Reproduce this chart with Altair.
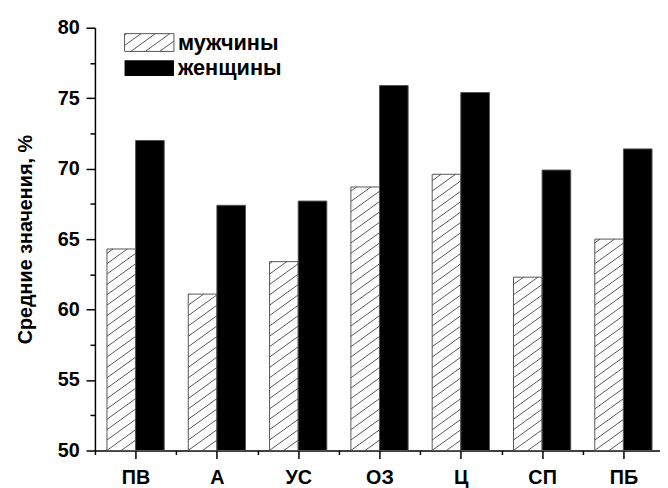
import altair as alt
import pandas as pd

# ---- data ----
categories = ["ПВ", "А", "УС", "ОЗ", "Ц", "СП", "ПБ"]
men = [64.3, 61.1, 63.4, 68.7, 69.6, 62.3, 65.0]
women = [72.0, 67.4, 67.7, 75.9, 75.4, 69.9, 71.4]
series_names = ["мужчины", "женщины"]
y_major_ticks = [50, 55, 60, 65, 70, 75, 80]
y_title = "Средние значения, %"

# ---- layout / style constants ----
W, H = 572, 428
X_MIN, X_MAX = -0.5, 6.45
Y_MIN, Y_MAX = 50, 80
PX = W / (X_MAX - X_MIN)
PY = H / (Y_MAX - Y_MIN)
BW = 0.352          # width of one bar, in category units
SLOPE = 0.72        # hatch slope (pixels up per pixel right)
SPACING = 10.5      # vertical spacing of hatch lines, px
FONT = "Liberation Sans"

rows = []
for i, c in enumerate(categories):
    rows.append({"cat": c, "i": i, "sex": series_names[0], "value": men[i]})
    rows.append({"cat": c, "i": i, "sex": series_names[1], "value": women[i]})
df = pd.DataFrame(rows)

x_scale = alt.Scale(domain=[X_MIN, X_MAX], nice=False, zero=False)
y_scale = alt.Scale(domain=[Y_MIN, Y_MAX], nice=False, zero=False)

label_arr = "[" + ",".join(f"'{c}'" for c in categories) + "]"
x_values = [k / 2 for k in range(-1, 2 * len(categories))]
x_axis = alt.Axis(
    values=x_values,
    labelExpr=f"datum.value % 1 == 0 ? {label_arr}[datum.value] : ''",
    tickSize={"condition": {"test": "datum.value % 1 != 0", "value": 4}, "value": 8},
    title=None, grid=False, labelFontSize=20, labelFont=FONT, labelFontWeight="bold",
    labelPadding=9, labelFlush=False, labelOverlap=False,
)
y_values = []
for a, b in zip(y_major_ticks[:-1], y_major_ticks[1:]):
    y_values += [a, (a + b) / 2]
y_values.append(y_major_ticks[-1])
y_axis = alt.Axis(
    values=y_values,
    labelExpr="datum.value % 5 == 0 ? datum.label : ''",
    tickSize={"condition": {"test": "datum.value % 5 != 0", "value": 5}, "value": 9},
    title=y_title, titleFontSize=20, titleFont=FONT, titleFontWeight="bold",
    titlePadding=22, labelPadding=7, grid=False, labelFontSize=20, labelFont=FONT,
    labelFontWeight="bold", labelFlush=False, labelOverlap=False,
)

bars = alt.Chart(df).transform_calculate(
    x0=f"datum.sex == '{series_names[0]}' ? datum.i - {BW} : datum.i",
    x1=f"datum.sex == '{series_names[0]}' ? datum.i : datum.i + {BW}",
).mark_bar(stroke="#555", strokeWidth=1).encode(
    x=alt.X("x0:Q", scale=x_scale, axis=x_axis),
    x2="x1:Q",
    y=alt.Y("value:Q", scale=y_scale, axis=y_axis),
    y2=alt.datum(Y_MIN),
    fill=alt.Fill("sex:N", scale=alt.Scale(domain=series_names, range=["white", "black"]), legend=None),
)

hatch = alt.Chart(df).transform_filter(
    f"datum.sex == '{series_names[0]}'"
).transform_calculate(
    wb=f"{BW * PX}",
    hb=f"(datum.value - {Y_MIN}) * {PY}",
    k="sequence(0, 200)",
).transform_flatten(["k"]).transform_calculate(
    b=f"-{SLOPE} * datum.wb + datum.k * {SPACING}"
).transform_filter("datum.b < datum.hb").transform_calculate(
    xs=f"max(0, -datum.b / {SLOPE})",
    xe=f"min(datum.wb, (datum.hb - datum.b) / {SLOPE})",
).transform_filter("datum.xs < datum.xe").transform_calculate(
    hx0=f"datum.i - {BW} + datum.xs / {PX}",
    hx1=f"datum.i - {BW} + datum.xe / {PX}",
    hy0=f"{Y_MIN} + ({SLOPE} * datum.xs + datum.b) / {PY}",
    hy1=f"{Y_MIN} + ({SLOPE} * datum.xe + datum.b) / {PY}",
).mark_rule(color="#444", strokeWidth=0.9).encode(
    x=alt.X("hx0:Q", scale=x_scale, axis=x_axis),
    x2="hx1:Q",
    y=alt.Y("hy0:Q", scale=y_scale, axis=y_axis),
    y2="hy1:Q",
)

# legend swatch path (unit box, scaled by symbol size)
SW_W, SW_H = 50, 18
r = SW_W / 2
hh = (SW_H / 2) / r
sp = SPACING / r
parts = [f"M-1,{-hh}H1V{hh}H-1Z"]
bb = -SLOPE * 1 - hh
while bb < hh + SLOPE:
    xs = max(-1, (-hh - bb) / SLOPE)
    xe = min(1, (hh - bb) / SLOPE)
    if xs < xe:
        parts.append(f"M{xs:.3f},{-(SLOPE * xs + bb):.3f}L{xe:.3f},{-(SLOPE * xe + bb):.3f}")
    bb += sp
swatch_path = "".join(parts)

leg_men = alt.Chart(pd.DataFrame({"label": [series_names[0]]})).mark_point(
    shape=swatch_path, filled=False, fill="white", stroke="#555", strokeWidth=1,
    size=SW_W * SW_W, opacity=1,
).encode(x=alt.value(55), y=alt.value(15))
leg_women = alt.Chart(pd.DataFrame({"label": [series_names[1]]})).mark_rect(
    color="black"
).encode(x=alt.value(30), x2=alt.value(80), y=alt.value(33), y2=alt.value(49))
txt_men = alt.Chart(pd.DataFrame({"label": [series_names[0]]})).mark_text(
    align="left", baseline="alphabetic", fontSize=22, fontWeight="bold", font=FONT, color="black"
).encode(x=alt.value(84), y=alt.value(23), text="label:N")
txt_women = alt.Chart(pd.DataFrame({"label": [series_names[1]]})).mark_text(
    align="left", baseline="alphabetic", fontSize=22, fontWeight="bold", font=FONT, color="black"
).encode(x=alt.value(84), y=alt.value(48), text="label:N")

chart = alt.layer(bars, hatch, leg_men, leg_women, txt_men, txt_women).properties(
    width=W, height=H,
    padding={"left": 7, "top": 7, "right": 0, "bottom": 0},
    background="white",
).configure_view(stroke=None).configure_axis(
    domainColor="black", tickColor="black", labelColor="black", titleColor="black",
    domainWidth=1.5, tickWidth=1.5,
)

chart.save("out.html", embed_options={"renderer": "svg", "actions": False})
